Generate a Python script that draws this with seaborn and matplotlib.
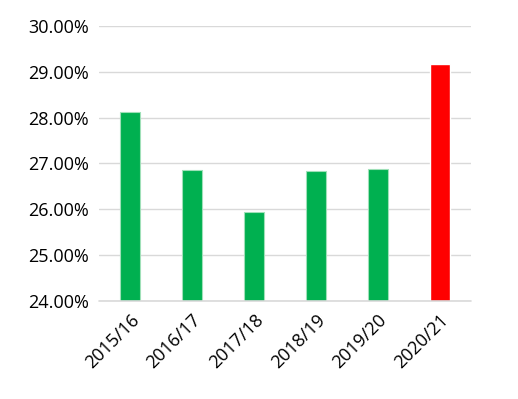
import seaborn as sns
import matplotlib.pyplot as plt
import pandas as pd
from matplotlib.ticker import PercentFormatter

# ---------------------------
# Data
# ---------------------------
years = ["2015/16", "2016/17", "2017/18", "2018/19", "2019/20", "2020/21"]
rates = [28.12, 26.85, 25.93, 26.83, 26.88, 29.18]
bar_colors = ["#00B050", "#00B050", "#00B050", "#00B050", "#00B050", "#FF0000"]

df = pd.DataFrame({"Year": years, "Rate": rates})

# ---------------------------
# Styling
# ---------------------------
sns.set_style("white")
plt.rcParams["font.family"] = ["Open Sans", "DejaVu Sans"]

fig = plt.figure(figsize=(5.18, 3.99), dpi=100)
ax = fig.add_axes([0.191, 0.246, 0.718, 0.689])

sns.barplot(data=df, x="Year", y="Rate", hue="Year", palette=bar_colors,
            saturation=1, legend=False, width=0.32, ax=ax, zorder=3)
for patch, c in zip(ax.patches, bar_colors):
    if c == "#00B050":
        patch.set_edgecolor("#9fe0b8")
        patch.set_linewidth(0.8)

ax.set_ylim(24, 30)
ax.set_xlim(-0.5, 5.5)
ax.set_yticks([24, 25, 26, 27, 28, 29, 30])
ax.yaxis.set_major_formatter(PercentFormatter(decimals=2))
ax.yaxis.grid(True, color="#d9d9d9", linewidth=1, zorder=0)
ax.axhline(24, color="#d9d9d9", linewidth=1.2, zorder=4, clip_on=False)
ax.set_axisbelow(True)
for s in ax.spines.values():
    s.set_visible(False)

ax.tick_params(axis="both", length=0, labelsize=13, colors="#000000", pad=7)
plt.setp(ax.get_xticklabels(), rotation=45, ha="right", rotation_mode="anchor")
ax.set_xlabel("")
ax.set_ylabel("")

plt.savefig("out.png", dpi=100)
